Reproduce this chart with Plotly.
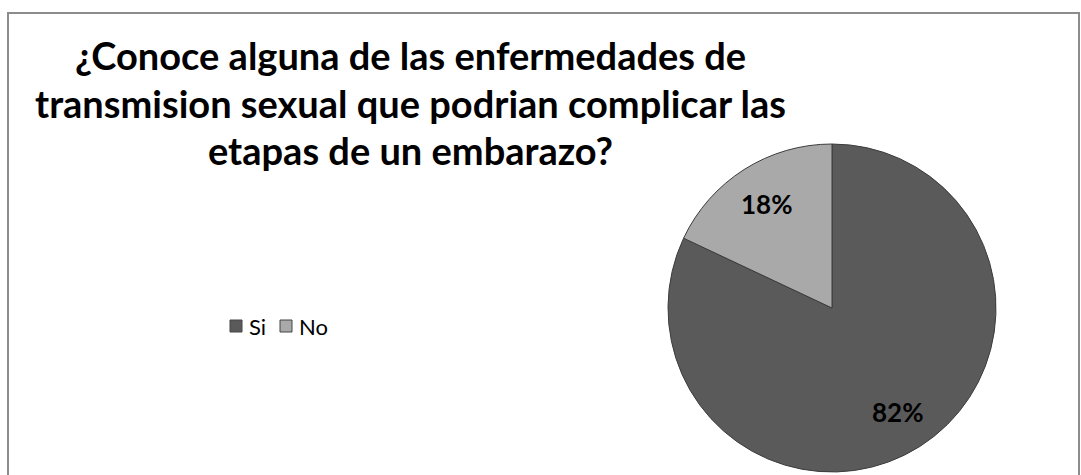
import math
import plotly.graph_objects as go

# Survey answers and their shares (percent)
categories = ["Si", "No"]
values = [82, 18]
slice_colors = ["#5a5a5a", "#a9a9a9"]

title_lines = [
    "¿Conoce alguna de las enfermedades de",
    "transmision sexual que podrian complicar las",
    "etapas de un embarazo?",
]

W, H = 1081, 475

# pie placement in pixels
cx, cy, R = 832, 308, 164

fig = go.Figure()

fig.add_trace(go.Pie(
    labels=categories,
    values=values,
    sort=False,
    direction="clockwise",
    rotation=0,
    marker=dict(colors=slice_colors, line=dict(color="#3c3c3c", width=1)),
    textinfo="none",
    domain=dict(x=[(cx - R) / W, (cx + R) / W], y=[(H - cy - R) / H, (H - cy + R) / H]),
    showlegend=False,
    hoverinfo="label+percent",
))

annotations = []

# percentage labels placed along each slice's bisector
total = sum(values)
start = 0.0
for v in values:
    frac = v / total
    mid = (start + frac / 2) * 2 * math.pi  # clockwise from 12 o'clock
    px = cx + 0.75 * R * math.sin(mid)
    py = cy - 0.75 * R * math.cos(mid)
    annotations.append(dict(
        text=f"<b>{frac * 100:.0f}%</b>", xref="paper", yref="paper",
        x=px / W, y=1 - py / H, xanchor="center", yanchor="middle",
        showarrow=False,
        font=dict(family="Lato", size=26, color="#000000"),
    ))
    start += frac

title_y = [72, 120, 167]  # baselines in px from top
for line, yb in zip(title_lines, title_y):
    annotations.append(dict(
        text=f"<b>{line}</b>", xref="paper", yref="paper",
        x=410 / W, y=1 - (yb + 8) / H, xanchor="center", yanchor="bottom",
        showarrow=False,
        font=dict(family="Lato", size=38, color="#000000"),
    ))

# legend drawn as swatches plus labels
shapes = [dict(
    type="rect", xref="paper", yref="paper",
    x0=8 / W, x1=1079 / W, y0=-0.05, y1=1 - 13 / H,
    line=dict(color="#8c8c8c", width=2), layer="below",
)]
legend_x = [230, 280]
legend_y = 326
for name, col, lx in zip(categories, slice_colors, legend_x):
    shapes.append(dict(
        type="rect", xref="paper", yref="paper",
        x0=lx / W, x1=(lx + 12) / W,
        y0=1 - (legend_y + 6) / H, y1=1 - (legend_y - 6) / H,
        fillcolor=col, line=dict(color="#444444", width=1),
    ))
    annotations.append(dict(
        text=name, xref="paper", yref="paper",
        x=(lx + 17) / W, y=1 - legend_y / H, xanchor="left", yanchor="middle",
        showarrow=False,
        font=dict(family="Lato", size=22, color="#000000"),
    ))

fig.update_layout(
    width=W, height=H,
    margin=dict(l=0, r=0, t=0, b=0),
    paper_bgcolor="white",
    plot_bgcolor="white",
    annotations=annotations,
    shapes=shapes,
)

fig.write_html("out.html")
